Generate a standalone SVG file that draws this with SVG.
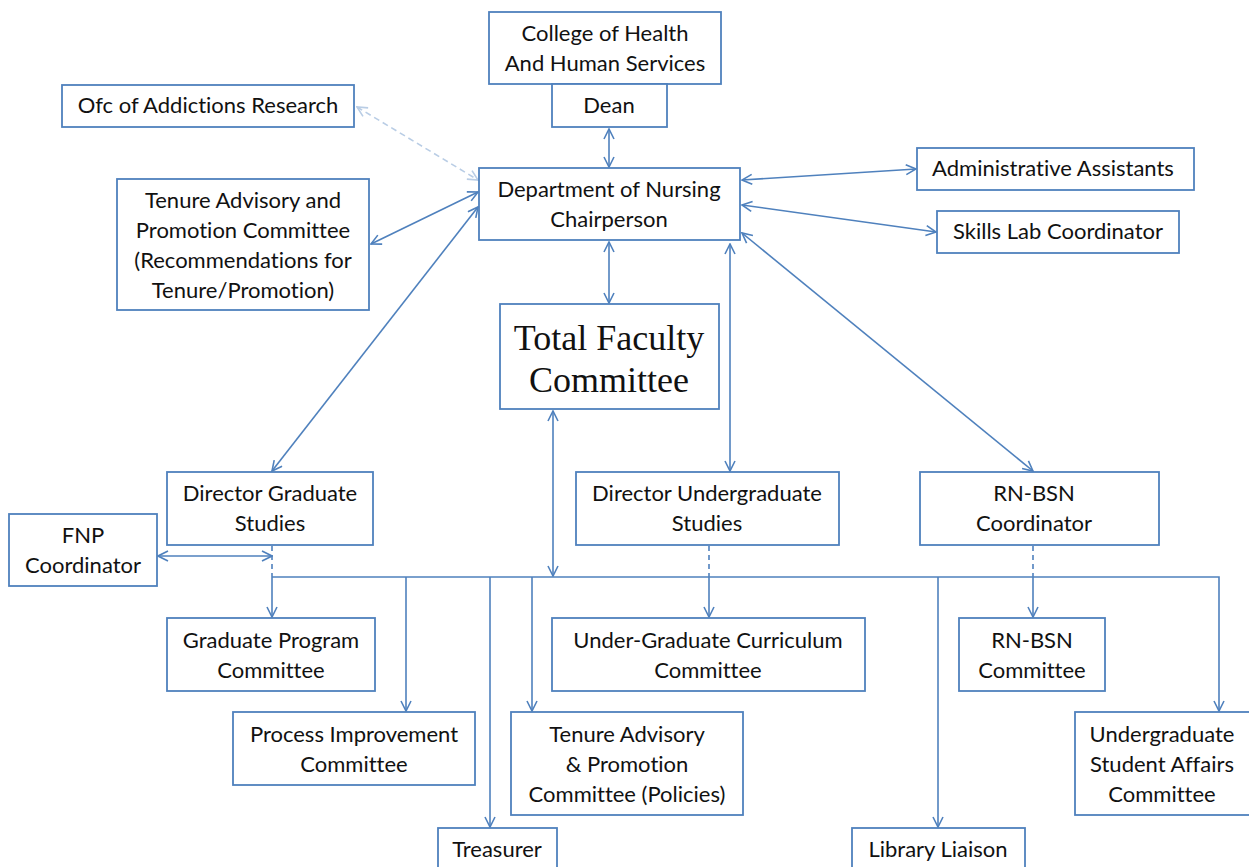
<svg xmlns="http://www.w3.org/2000/svg" width="1249" height="867" viewBox="0 0 1249 867">
<style>
.box{fill:#fff;stroke:#4f81bd;stroke-width:1.8}
.t{font-family:Lato,"Open Sans","Liberation Sans",sans-serif;font-size:22px;fill:#111;text-anchor:middle;font-variant-ligatures:none}
.big{font-family:"Liberation Serif","DejaVu Serif",serif;font-size:36px;fill:#111;text-anchor:middle}
.c{fill:none;stroke:#4f81bd;stroke-width:1.6}
.d{fill:none;stroke:#4f81bd;stroke-width:1.6;stroke-dasharray:5 4}
.l{fill:none;stroke:#b9cde5;stroke-width:1.6;stroke-dasharray:6 4}
</style>
<defs>
<marker id="a" viewBox="0 0 12 12" refX="11" refY="6" markerWidth="12" markerHeight="12" markerUnits="userSpaceOnUse" orient="auto-start-reverse">
<path d="M1,1 L11,6 L1,11" fill="none" stroke="#4f81bd" stroke-width="1.6"/>
</marker>
<marker id="al" viewBox="0 0 12 12" refX="11" refY="6" markerWidth="12" markerHeight="12" markerUnits="userSpaceOnUse" orient="auto-start-reverse">
<path d="M1,1 L11,6 L1,11" fill="none" stroke="#b9cde5" stroke-width="1.6"/>
</marker>
</defs>
<rect width="1249" height="867" fill="#fff"/>
<g id="connectors">
<line class="l" x1="357" y1="107" x2="478" y2="180" marker-start="url(#al)" marker-end="url(#al)"/>
<line class="c" x1="609" y1="129" x2="609" y2="167" marker-start="url(#a)" marker-end="url(#a)"/>
<line class="c" x1="742" y1="180" x2="916" y2="169" marker-start="url(#a)" marker-end="url(#a)"/>
<line class="c" x1="742" y1="205" x2="936" y2="232" marker-start="url(#a)" marker-end="url(#a)"/>
<line class="c" x1="478" y1="192" x2="371" y2="244" marker-start="url(#a)" marker-end="url(#a)"/>
<line class="c" x1="478" y1="207" x2="272" y2="471" marker-start="url(#a)" marker-end="url(#a)"/>
<line class="c" x1="609" y1="242" x2="609" y2="303" marker-start="url(#a)" marker-end="url(#a)"/>
<line class="c" x1="730" y1="244" x2="730" y2="471" marker-start="url(#a)" marker-end="url(#a)"/>
<line class="c" x1="742" y1="233" x2="1033" y2="471" marker-start="url(#a)" marker-end="url(#a)"/>
<line class="c" x1="553" y1="411" x2="553" y2="576" marker-start="url(#a)" marker-end="url(#a)"/>
<line class="c" x1="158" y1="556" x2="272" y2="556" marker-start="url(#a)" marker-end="url(#a)"/>
<line class="d" x1="272" y1="546" x2="272" y2="577"/>
<line class="d" x1="709" y1="546" x2="709" y2="577"/>
<line class="d" x1="1033" y1="546" x2="1033" y2="577"/>
<polyline class="c" points="272,577 1219,577 1219,711" marker-end="url(#a)"/>
<line class="c" x1="272" y1="577" x2="272" y2="617" marker-end="url(#a)"/>
<line class="c" x1="406" y1="577" x2="406" y2="711" marker-end="url(#a)"/>
<line class="c" x1="490" y1="577" x2="490" y2="827" marker-end="url(#a)"/>
<line class="c" x1="532" y1="577" x2="532" y2="711" marker-end="url(#a)"/>
<line class="c" x1="709" y1="577" x2="709" y2="617" marker-end="url(#a)"/>
<line class="c" x1="938" y1="577" x2="938" y2="827" marker-end="url(#a)"/>
<line class="c" x1="1033" y1="577" x2="1033" y2="617" marker-end="url(#a)"/>
</g>
<g id="college"><rect class="box" x="489" y="12" width="232" height="72"/><text class="t" x="605" y="41">College of Health</text><text class="t" x="605" y="71">And Human Services</text></g>
<g id="dean"><rect class="box" x="552" y="84" width="115" height="43"/><text class="t" x="609" y="113">Dean</text></g>
<g id="ofc"><rect class="box" x="62" y="85" width="292" height="42"/><text class="t" x="208" y="113">Ofc of Addictions Research</text></g>
<g id="chair"><rect class="box" x="479" y="168" width="261" height="72"/><text class="t" x="609" y="197">Department of Nursing</text><text class="t" x="609" y="227">Chairperson</text></g>
<g id="admin"><rect class="box" x="917" y="148" width="277" height="42"/><text class="t" x="1053" y="176">Administrative Assistants</text></g>
<g id="skills"><rect class="box" x="937" y="211" width="242" height="42"/><text class="t" x="1058" y="239">Skills Lab Coordinator</text></g>
<g id="tenure-adv"><rect class="box" x="117" y="179" width="252" height="131"/><text class="t" x="243" y="208">Tenure Advisory and</text><text class="t" x="243" y="238">Promotion Committee</text><text class="t" x="243" y="268">(Recommendations for</text><text class="t" x="243" y="298">Tenure/Promotion)</text></g>
<g id="tfc"><rect class="box" x="500" y="304" width="219" height="105"/><text class="big" x="609" y="350">Total Faculty</text><text class="big" x="609" y="392">Committee</text></g>
<g id="dir-grad"><rect class="box" x="167" y="472" width="206" height="73"/><text class="t" x="270" y="501">Director Graduate</text><text class="t" x="270" y="531">Studies</text></g>
<g id="dir-ug"><rect class="box" x="576" y="472" width="263" height="73"/><text class="t" x="707" y="501">Director Undergraduate</text><text class="t" x="707" y="531">Studies</text></g>
<g id="rnbsn-coord"><rect class="box" x="920" y="472" width="239" height="73"/><text class="t" x="1034" y="501">RN-BSN</text><text class="t" x="1034" y="531">Coordinator</text></g>
<g id="fnp"><rect class="box" x="9" y="514" width="148" height="72"/><text class="t" x="83" y="543">FNP</text><text class="t" x="83" y="573">Coordinator</text></g>
<g id="grad-prog"><rect class="box" x="167" y="618" width="208" height="73"/><text class="t" x="271" y="648">Graduate Program</text><text class="t" x="271" y="678">Committee</text></g>
<g id="ug-curr"><rect class="box" x="552" y="618" width="313" height="73"/><text class="t" x="708" y="648">Under-Graduate Curriculum</text><text class="t" x="708" y="678">Committee</text></g>
<g id="rnbsn-comm"><rect class="box" x="959" y="618" width="146" height="73"/><text class="t" x="1032" y="648">RN-BSN</text><text class="t" x="1032" y="678">Committee</text></g>
<g id="process"><rect class="box" x="233" y="712" width="242" height="73"/><text class="t" x="354" y="742">Process Improvement</text><text class="t" x="354" y="772">Committee</text></g>
<g id="tenure-pol"><rect class="box" x="511" y="712" width="232" height="103"/><text class="t" x="627" y="742">Tenure Advisory</text><text class="t" x="627" y="772">&amp; Promotion</text><text class="t" x="627" y="802">Committee (Policies)</text></g>
<g id="usa"><rect class="box" x="1075" y="712" width="176" height="103"/><text class="t" x="1162" y="742">Undergraduate</text><text class="t" x="1162" y="772">Student Affairs</text><text class="t" x="1162" y="802">Committee</text></g>
<g id="treasurer"><rect class="box" x="438" y="828" width="119" height="45"/><text class="t" x="497" y="857">Treasurer</text></g>
<g id="library"><rect class="box" x="852" y="828" width="173" height="45"/><text class="t" x="938" y="857">Library Liaison</text></g>
</svg>
